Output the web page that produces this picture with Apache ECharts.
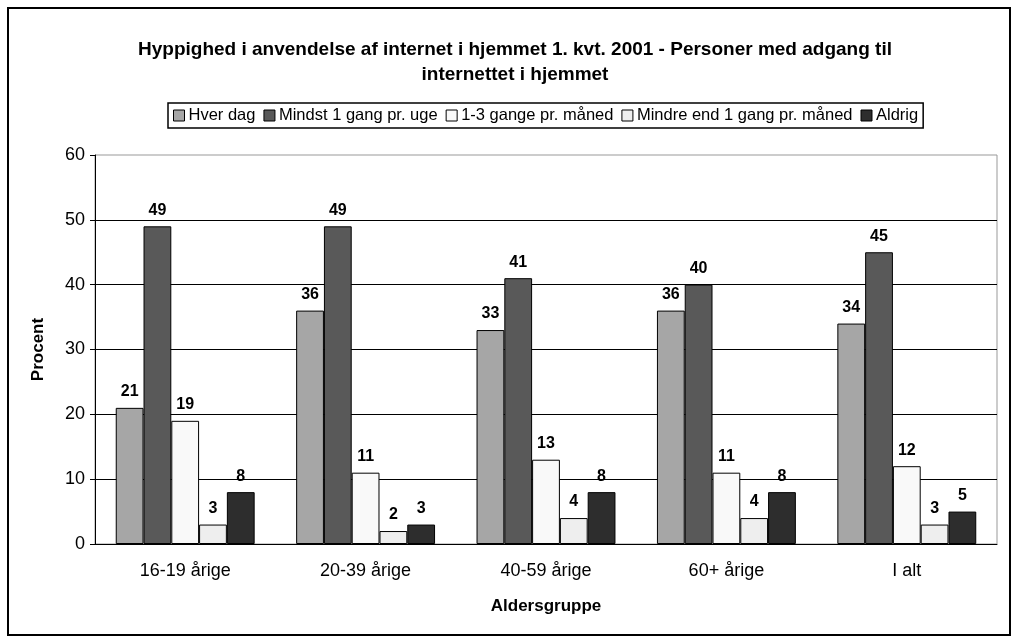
<!DOCTYPE html>
<html>
<head>
<meta charset="utf-8">
<script src="https://cdn.jsdelivr.net/npm/echarts@6/dist/echarts.min.js"></script>
<style>
  html, body { margin:0; padding:0; background:#fff; }
  #chart { width:1017px; height:644px; }
</style>
</head>
<body>
<div id="chart"></div>
<script>
// data
const categories = ['16-19 årige', '20-39 årige', '40-59 årige', '60+ årige', 'I alt']
const hverDag    = [21, 36, 33, 36, 34]
const mindstUge  = [49, 49, 41, 40, 45]
const gangeMaaned = [19, 11, 13, 11, 12]
const mindreEnd  = [3, 2, 4, 4, 3]
const aldrig     = [8, 3, 8, 8, 5]

const seriesNames  = ['Hver dag', 'Mindst 1 gang pr. uge', '1-3 gange pr. måned', 'Mindre end 1 gang pr. måned', 'Aldrig']
const seriesData   = [hverDag, mindstUge, gangeMaaned, mindreEnd, aldrig]
const seriesColors = ['#a6a6a6', '#595959', '#f9f9f9', '#eeeeee', '#2d2d2d']

const font = 'Liberation Sans, Arial, sans-serif'

const chart = echarts.init(document.getElementById('chart'))
chart.setOption({
  animation: false,
  textStyle: { fontFamily: font },
  title: {
    text: 'Hyppighed i anvendelse af internet i hjemmet 1. kvt. 2001 - Personer med adgang til\ninternettet i hjemmet',
    left: 510, top: 32, textAlign: 'center',
    textStyle: { fontSize: 19, fontWeight: 'bold', color: '#000', lineHeight: 25, fontFamily: font }
  },
  legend: {
    top: 103, left: 168,
    icon: 'rect',
    itemWidth: 11, itemHeight: 11, itemGap: 8,
    padding: [4, 5, 4, 5],
    borderColor: '#000', borderWidth: 1.5,
    textStyle: { fontSize: 16.5, color: '#000', padding: [0, 0, 0, -1], fontFamily: font },
    itemStyle: { borderColor: '#000', borderWidth: 1 },
    data: seriesNames
  },
  grid: { left: 95, right: 20, top: 155, bottom: 100, show: true, borderColor: '#999', borderWidth: 1 },
  xAxis: {
    type: 'category',
    data: categories,
    name: 'Aldersgruppe',
    nameLocation: 'middle', nameGap: 54,
    nameTextStyle: { fontSize: 17, fontWeight: 'bold', color: '#000' },
    axisLine: { lineStyle: { color: '#000', width: 1 } },
    axisTick: { length: 5, lineStyle: { color: '#000' } },
    axisLabel: { fontSize: 18, color: '#000', margin: 18 }
  },
  yAxis: {
    type: 'value',
    min: 0, max: 60, interval: 10,
    name: 'Procent',
    nameLocation: 'middle', nameGap: 48,
    nameTextStyle: { fontSize: 17, fontWeight: 'bold', color: '#000' },
    axisLine: { show: true, lineStyle: { color: '#000' } },
    axisTick: { show: true, length: 5, lineStyle: { color: '#000' } },
    axisLabel: { fontSize: 18, color: '#000', margin: 10 },
    splitLine: { showMaxLine: false, lineStyle: { color: '#000', width: 1 } }
  },
  graphic: [{
    type: 'rect', silent: true, z: -1,
    shape: { x: 8, y: 8, width: 1002, height: 627 },
    style: { fill: 'none', stroke: '#000', lineWidth: 2 }
  }],
  series: seriesNames.map((name, i) => ({
    name,
    type: 'bar',
    data: seriesData[i],
    barGap: 0,
    barCategoryGap: '23%',
    itemStyle: { color: seriesColors[i], borderColor: '#000', borderWidth: 1 },
    label: {
      show: true, position: 'top', distance: 8,
      fontSize: 16, fontWeight: 'bold', color: '#000'
    }
  }))
})
</script>
</body>
</html>
